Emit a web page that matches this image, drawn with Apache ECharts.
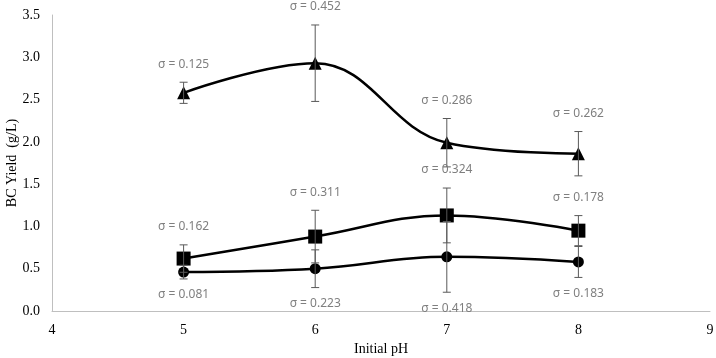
<!DOCTYPE html>
<html><head><meta charset="utf-8">
<script src="https://cdn.jsdelivr.net/npm/echarts@6/dist/echarts.min.js"></script>
<style>html,body{margin:0;padding:0;background:#fff}#c{width:716px;height:358px}</style>
</head><body><div id="c"></div>
<script>
const xValues = [5, 6, 7, 8];
const xTicks = [4, 5, 6, 7, 8, 9];
const yTicks = [0, 0.5, 1.0, 1.5, 2.0, 2.5, 3.0, 3.5];
const triangleYield = [2.58, 2.93, 1.99, 1.86];
const triangleSigma = [0.125, 0.452, 0.286, 0.262];
const squareYield = [0.62, 0.88, 1.13, 0.95];
const squareSigma = [0.162, 0.311, 0.324, 0.178];
const circleYield = [0.46, 0.50, 0.64, 0.58];
const circleSigma = [0.081, 0.223, 0.418, 0.183];

const chart = echarts.init(document.getElementById('c'));
const serif = '"Liberation Serif","Times New Roman",serif';

function pts(ys) { return xValues.map((x, i) => [x, ys[i]]); }
function errData(ys, sig) { return xValues.map((x, i) => [x, ys[i], sig[i]]); }

function errSeries(ys, sig, side) {
  return {
    type: 'custom',
    z: 5,
    data: errData(ys, sig),
    encode: { x: 0, y: [1] },
    renderItem: function (params, api) {
      const x = api.value(0), y = api.value(1), s = api.value(2);
      const top = api.coord([x, y + s]);
      const bot = api.coord([x, y - s]);
      const cw = 4;
      const st = { stroke: '#595959', lineWidth: 1 };
      const labelY = side === 'above' ? top[1] - 18 : bot[1] + 16;
      return {
        type: 'group',
        children: [
          { type: 'line', shape: { x1: top[0], y1: top[1], x2: bot[0], y2: bot[1] }, style: st },
          { type: 'line', shape: { x1: top[0] - cw, y1: top[1], x2: top[0] + cw, y2: top[1] }, style: st },
          { type: 'line', shape: { x1: bot[0] - cw, y1: bot[1], x2: bot[0] + cw, y2: bot[1] }, style: st },
          { type: 'text', x: top[0], y: labelY,
            style: { text: 'σ = ' + s.toFixed(3), fill: '#7f7f7f', font: '12px "Noto Sans", sans-serif',
                     align: 'center', verticalAlign: 'middle' } }
        ]
      };
    }
  };
}

function lineSeries(ys, symbol, size) {
  return {
    type: 'line', data: pts(ys), smooth: 0.4, symbol: symbol, symbolSize: size,
    lineStyle: { color: '#000', width: 2.5 }, itemStyle: { color: '#000' }, z: 3
  };
}

chart.setOption({
  animation: false,
  grid: { left: 52, right: 6, top: 15, bottom: 47, containLabel: false, outerBoundsMode: 'none' },
  xAxis: {
    type: 'value', min: 4, max: 9, interval: 1,
    name: 'Initial pH', nameLocation: 'middle', nameGap: 31, nameMoveOverlap: false,
    nameTextStyle: { fontFamily: serif, fontSize: 14, color: '#000' },
    axisLine: { lineStyle: { color: '#bfbfbf', width: 1 } },
    axisTick: { show: false }, splitLine: { show: false },
    axisLabel: { fontFamily: serif, fontSize: 14, color: '#000', margin: 12 }
  },
  yAxis: {
    type: 'value', min: 0, max: 3.5, interval: 0.5,
    name: 'BC Yield  (g/L)', nameLocation: 'middle', nameGap: 33, nameRotate: 90, nameMoveOverlap: false,
    nameTextStyle: { fontFamily: serif, fontSize: 14, color: '#000' },
    axisLine: { show: true, lineStyle: { color: '#bfbfbf', width: 1 } },
    axisTick: { show: false }, splitLine: { show: false },
    axisLabel: { fontFamily: serif, fontSize: 14, color: '#000', margin: 12,
                 formatter: v => v.toFixed(1) }
  },
  series: [
    lineSeries(triangleYield, 'triangle', 13),
    lineSeries(squareYield, 'rect', 14),
    lineSeries(circleYield, 'circle', 11),
    errSeries(triangleYield, triangleSigma, 'above'),
    errSeries(squareYield, squareSigma, 'above'),
    errSeries(circleYield, circleSigma, 'below')
  ]
});
</script></body></html>
